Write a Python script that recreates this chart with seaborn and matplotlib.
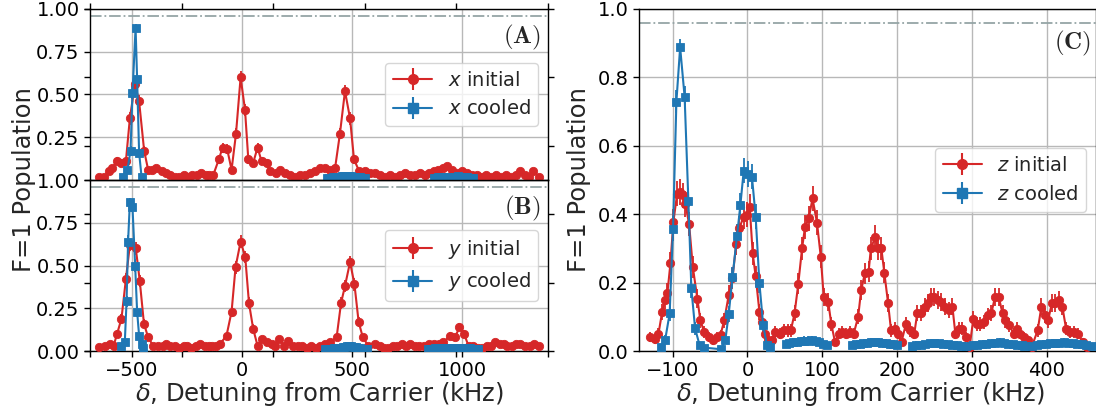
import numpy as np
import pandas as pd
import matplotlib
matplotlib.use("Agg")
import matplotlib.pyplot as plt
import seaborn as sns
from matplotlib.lines import Line2D
from matplotlib.legend_handler import HandlerTuple
from matplotlib.ticker import FormatStrFormatter

# ---------------- data ----------------
N_SHOTS = 180  # shots per point, used for binomial error bars

# Panel A : x motion
xA_init_f = [-648, -626, -603, -588, -567, -547, -527, -509, -486, -467,
             -444, -426, -410, -388, -365, -345, -325, -305, -285, -265,
             -245, -225, -205, -185, -165, -150, -130, -105, -88, -67,
             -47, -27, -6, 14, 29, 51, 71, 89, 112, 127,
             155, 173, 195, 218, 241, 264, 286, 309, 332, 355,
             377, 400, 423, 445, 468, 491, 509, 533, 559, 582,
             605, 628, 650, 672, 695, 718, 740, 762, 785, 808,
             830, 850, 870, 892, 912, 930, 953, 976, 998, 1021,
             1044, 1066, 1088, 1110, 1132, 1155, 1177, 1200, 1222, 1244,
             1264, 1285, 1305, 1324, 1347]
xA_init_p = [0.02, 0.02, 0.05, 0.07, 0.11, 0.10, 0.11, 0.36, 0.56, 0.46,
             0.17, 0.06, 0.06, 0.07, 0.05, 0.04, 0.03, 0.02, 0.02, 0.03,
             0.02, 0.03, 0.03, 0.04, 0.03, 0.03, 0.03, 0.12, 0.19, 0.18,
             0.06, 0.27, 0.60, 0.41, 0.12, 0.10, 0.19, 0.11, 0.10, 0.05,
             0.04, 0.06, 0.04, 0.03, 0.02, 0.03, 0.03, 0.04, 0.05, 0.07,
             0.07, 0.06, 0.07, 0.27, 0.52, 0.36, 0.12, 0.05, 0.05, 0.04,
             0.04, 0.03, 0.02, 0.03, 0.02, 0.03, 0.04, 0.03, 0.03, 0.04,
             0.03, 0.04, 0.05, 0.06, 0.07, 0.08, 0.06, 0.04, 0.05, 0.04,
             0.03, 0.03, 0.02, 0.03, 0.02, 0.03, 0.02, 0.03, 0.02, 0.03,
             0.05, 0.03, 0.02, 0.05, 0.02]

xA_cool_f1 = [-540, -520, -506, -497, -483, -476, -467, -456]
xA_cool_p1 = [0.02, 0.06, 0.17, 0.51, 0.89, 0.59, 0.16, 0.02]
xA_cool_f2 = [385, 395, 405, 415, 425, 435, 445, 455, 465, 475,
              485, 495, 505, 515, 525, 535, 545, 559]
xA_cool_p2 = [0.010, 0.012, 0.010, 0.015, 0.015, 0.018, 0.020, 0.022, 0.025, 0.025,
              0.025, 0.024, 0.020, 0.020, 0.016, 0.015, 0.012, 0.010]
xA_cool_f3 = [870, 880, 890, 900, 910, 920, 930, 940, 950, 960,
              970, 980, 990, 1000, 1010, 1020, 1030, 1040, 1050]
xA_cool_p3 = [0.010, 0.012, 0.015, 0.015, 0.018, 0.020, 0.018, 0.015, 0.015, 0.018,
              0.020, 0.022, 0.020, 0.018, 0.018, 0.015, 0.012, 0.012, 0.010]

# Panel B : y motion
yB_init_f = [-649, -623, -600, -583, -567, -547, -527, -509, -482, -464,
             -445, -426, -403, -380, -360, -345, -325, -305, -285, -265,
             -251, -230, -210, -191, -170, -150, -138, -118, -100, -70,
             -47, -29, -6, 15, 32, 51, 71, 89, 112, 135,
             150, 170, 191, 211, 233, 255, 275, 295, 315, 335,
             355, 375, 400, 430, 450, 468, 491, 511, 530, 549,
             574, 605, 625, 645, 665, 685, 705, 725, 745, 765,
             785, 805, 825, 850, 870, 893, 915, 945, 968, 988,
             1009, 1029, 1050, 1070, 1090, 1112, 1130, 1150, 1170, 1188,
             1205, 1225, 1245, 1264, 1285, 1309, 1327, 1347]
yB_init_p = [0.025, 0.03, 0.04, 0.03, 0.10, 0.19, 0.42, 0.62, 0.60, 0.41,
             0.16, 0.08, 0.03, 0.03, 0.03, 0.04, 0.03, 0.03, 0.02, 0.03,
             0.03, 0.02, 0.03, 0.04, 0.03, 0.03, 0.03, 0.03, 0.04, 0.09,
             0.23, 0.49, 0.64, 0.55, 0.28, 0.13, 0.03, 0.07, 0.05, 0.04,
             0.03, 0.07, 0.03, 0.06, 0.03, 0.03, 0.03, 0.02, 0.03, 0.02,
             0.03, 0.04, 0.05, 0.08, 0.28, 0.38, 0.52, 0.39, 0.17, 0.08,
             0.03, 0.04, 0.03, 0.02, 0.02, 0.03, 0.03, 0.04, 0.03, 0.04,
             0.03, 0.03, 0.03, 0.04, 0.04, 0.04, 0.05, 0.09, 0.08, 0.14,
             0.10, 0.03, 0.03, 0.02, 0.02, 0.03, 0.03, 0.05, 0.04, 0.04,
             0.03, 0.03, 0.04, 0.04, 0.03, 0.03, 0.04, 0.03]

yB_cool_f1 = [-547, -532, -524, -517, -509, -497, -485, -476, -467, -456, -448]
yB_cool_p1 = [0.03, 0.05, 0.29, 0.64, 0.87, 0.84, 0.50, 0.23, 0.09, 0.04, 0.02]
yB_cool_f2 = [377, 387, 397, 407, 417, 427, 437, 447, 457, 467,
              477, 487, 497, 507, 517, 527, 537, 547, 557, 567]
yB_cool_p2 = [0.010, 0.010, 0.012, 0.012, 0.015, 0.015, 0.018, 0.020, 0.022, 0.025,
              0.028, 0.030, 0.028, 0.025, 0.022, 0.020, 0.015, 0.012, 0.010, 0.010]
yB_cool_f3 = [847, 857, 867, 877, 887, 897, 907, 917, 927, 937, 947, 957,
              967, 977, 987, 997, 1007, 1017, 1027, 1037, 1047, 1057, 1067, 1074]
yB_cool_p3 = [0.010, 0.012, 0.012, 0.015, 0.015, 0.015, 0.018, 0.015, 0.015, 0.018, 0.018, 0.020,
              0.018, 0.018, 0.020, 0.020, 0.018, 0.018, 0.015, 0.015, 0.012, 0.012, 0.010, 0.010]

# Panel C : z motion
zC_init_f = [-130, -124, -119, -114, -110, -107, -103, -99, -94, -90,
             -86, -83, -78, -73, -67, -63, -58, -52, -46, -41,
             -36, -31, -25, -20, -15, -11, -5, -1, 3, 7,
             11, 16, 20, 24, 28, 33, 37, 43, 49, 54,
             58, 63, 68, 73, 77, 82, 87, 93, 98, 102,
             108, 112, 117, 122, 127, 132, 137, 142, 148, 152,
             157, 162, 165, 171, 174, 179, 183, 188, 192, 197,
             201, 206, 212, 217, 223, 227, 232, 237, 241, 245,
             249, 255, 259, 264, 270, 274, 278, 283, 287, 292,
             297, 302, 307, 311, 316, 321, 326, 331, 336, 341,
             345, 350, 356, 360, 365, 370, 375, 380, 388, 393,
             398, 402, 407, 411, 417, 421, 426, 431, 437, 442,
             448, 454]
zC_init_p = [0.042, 0.035, 0.05, 0.115, 0.15, 0.17, 0.256, 0.378, 0.46, 0.465,
             0.455, 0.43, 0.371, 0.245, 0.153, 0.09, 0.056, 0.04, 0.032, 0.042,
             0.047, 0.09, 0.164, 0.213, 0.314, 0.359, 0.393, 0.398, 0.422, 0.286,
             0.218, 0.115, 0.085, 0.05, 0.032, 0.032, 0.056, 0.05, 0.06, 0.06,
             0.06, 0.11, 0.197, 0.30, 0.363, 0.388, 0.446, 0.375, 0.276, 0.158,
             0.144, 0.08, 0.027, 0.05, 0.056, 0.05, 0.056, 0.05, 0.10, 0.178,
             0.227, 0.232, 0.30, 0.334, 0.30, 0.30, 0.229, 0.14, 0.06, 0.065,
             0.05, 0.027, 0.08, 0.06, 0.05, 0.11, 0.11, 0.13, 0.14, 0.158,
             0.158, 0.149, 0.144, 0.13, 0.12, 0.13, 0.05, 0.065, 0.065, 0.041,
             0.012, 0.094, 0.08, 0.08, 0.085, 0.104, 0.11, 0.158, 0.158, 0.11,
             0.09, 0.076, 0.05, 0.065, 0.05, 0.041, 0.032, 0.012, 0.06, 0.13,
             0.104, 0.09, 0.14, 0.14, 0.149, 0.13, 0.065, 0.056, 0.056, 0.05,
             0.027, 0.012]

zC_cool_f1 = [-116, -110, -104, -99.5, -95, -90, -84, -79, -75, -70, -64, -58, -35,
              -29.5, -25, -20, -14, -9.5, -5, 0.5, 6, 11, 16, 21, 26, 30]
zC_cool_p1 = [0.013, 0.033, 0.11, 0.358, 0.729, 0.888, 0.743, 0.44, 0.183, 0.066, 0.017, 0.01, 0.005,
              0.033, 0.109, 0.216, 0.336, 0.426, 0.527, 0.517, 0.51, 0.392, 0.198, 0.076, 0.017, 0.012]
zC_cool_f2 = [51, 56, 61, 66, 71, 76, 81, 86, 91, 96, 101, 107]
zC_cool_p2 = [0.020, 0.022, 0.025, 0.025, 0.028, 0.030, 0.030, 0.032, 0.028, 0.025, 0.020, 0.018]
zC_cool_f3 = [140, 145, 150, 155, 160, 165, 170, 175, 180, 185, 190, 195, 200]
zC_cool_p3 = [0.018, 0.020, 0.020, 0.022, 0.022, 0.025, 0.025, 0.025, 0.022, 0.022, 0.020, 0.020, 0.018]
zC_cool_f4 = [220, 226, 232, 238, 244, 250, 256, 262, 268, 274, 280, 286, 292]
zC_cool_p4 = [0.015, 0.018, 0.018, 0.020, 0.022, 0.022, 0.022, 0.020, 0.020, 0.018, 0.018, 0.015, 0.015]
zC_cool_f5 = [301, 307, 313, 319, 325, 331, 337, 343, 349, 355, 361, 367, 370]
zC_cool_p5 = [0.018, 0.018, 0.020, 0.020, 0.022, 0.022, 0.025, 0.022, 0.020, 0.020, 0.018, 0.018, 0.015]
zC_cool_f6 = [381, 387, 393, 399, 405, 411, 417, 423, 429, 435, 441, 447, 453, 461]
zC_cool_p6 = [0.015, 0.018, 0.020, 0.020, 0.022, 0.022, 0.022, 0.025, 0.022, 0.022, 0.020, 0.020, 0.018, 0.015]

THRESHOLD = 0.96
XLABEL = r"$\delta$, Detuning from Carrier (kHz)"
YLABEL = "F=1 Population"

# ---------------- style ----------------
sns.set_theme(style="ticks", rc={
    "axes.grid": True,
    "grid.color": "#b8b8b8",
    "grid.linewidth": 1.0,
    "axes.edgecolor": "black",
    "axes.linewidth": 1.0,
    "xtick.color": "black",
    "ytick.color": "black",
    "xtick.major.size": 4,
    "ytick.major.size": 4,
    "xtick.major.width": 1.0,
    "ytick.major.width": 1.0,
    "xtick.direction": "out",
    "ytick.direction": "out",
    "xtick.labelsize": 14,
    "ytick.labelsize": 14,
})
plt.rcParams["font.family"] = ["DejaVu Sans"]
plt.rcParams["mathtext.fontset"] = "dejavusans"
plt.rcParams["axes.unicode_minus"] = True

RED = "#d62728"
BLUE = "#1f77b4"
LABEL_FS = 17.5


def draw(ax, segments, color, marker, ms):
    for xs, ps in segments:
        df = pd.DataFrame({"freq": xs, "pop": ps})
        sns.lineplot(data=df, x="freq", y="pop", estimator=None, sort=False,
                     color=color, marker=marker, markersize=ms,
                     markeredgecolor=color, markeredgewidth=0.6,
                     linewidth=1.5, ax=ax, legend=False, zorder=3)
        p = np.asarray(ps, dtype=float)
        err = np.sqrt(p * (1 - p) / N_SHOTS)
        ax.errorbar(xs, ps, yerr=err, fmt="none", ecolor=color,
                    elinewidth=1.3, capsize=0, zorder=2.9)
    ax.set_xlabel("")
    ax.set_ylabel("")


def legend(ax, name, ms):
    h1 = (Line2D([], [], color=RED, marker="o", ms=ms, lw=1.5),
          Line2D([], [], color=RED, marker="|", ms=16, mew=1.5, ls="none"))
    h2 = (Line2D([], [], color=BLUE, marker="s", ms=ms, lw=1.5),
          Line2D([], [], color=BLUE, marker="|", ms=16, mew=1.5, ls="none"))
    leg = ax.legend([h1, h2], [f"${name}$ initial", f"${name}$ cooled"],
                    loc="center right", fontsize=14, frameon=True,
                    fancybox=True, framealpha=0.8, edgecolor="0.8",
                    handler_map={tuple: HandlerTuple(ndivide=1, pad=0)},
                    handlelength=2.0, borderpad=0.4, labelspacing=0.5)
    leg.set_zorder(10)


W, H = 1096, 415
fig = plt.figure(figsize=(W / 100, H / 100), dpi=100)


def rect(l, t, r, b):
    return [l / W, 1 - b / H, (r - l) / W, (b - t) / H]


axBig = fig.add_axes(rect(90, 9, 548, 351))
axA = fig.add_axes(rect(90, 9, 548, 180))
axB = fig.add_axes(rect(90, 180, 548, 351))
axC = fig.add_axes(rect(639, 9, 1096, 351))

# overlay axes: carries the common labels and the 0..1 frame ticks
axBig.set_facecolor("none")
axBig.grid(False)
for s in axBig.spines.values():
    s.set_visible(False)
axBig.set_xlim(0, 1)
axBig.set_ylim(0, 1)
axBig.tick_params(axis="both", which="both", top=True, right=True,
                  bottom=True, left=True, labelleft=False, labelbottom=False)
axBig.set_ylabel(YLABEL, fontsize=LABEL_FS)
axBig.set_xlabel(XLABEL, fontsize=LABEL_FS)
axBig.yaxis.set_label_coords(-0.118, 0.5)
axBig.xaxis.set_label_coords(0.5, -0.085)
axBig.set_zorder(0)
for a in (axA, axB, axC):
    a.set_zorder(1)

# panel A
draw(axA, [(xA_init_f, xA_init_p)], RED, "o", 6)
draw(axA, [(xA_cool_f1, xA_cool_p1), (xA_cool_f2, xA_cool_p2),
           (xA_cool_f3, xA_cool_p3)], BLUE, "s", 6)
# panel B
draw(axB, [(yB_init_f, yB_init_p)], RED, "o", 6)
draw(axB, [(yB_cool_f1, yB_cool_p1), (yB_cool_f2, yB_cool_p2),
           (yB_cool_f3, yB_cool_p3)], BLUE, "s", 6)
# panel C
draw(axC, [(zC_init_f, zC_init_p)], RED, "o", 6)
draw(axC, [(zC_cool_f1, zC_cool_p1), (zC_cool_f2, zC_cool_p2),
           (zC_cool_f3, zC_cool_p3), (zC_cool_f4, zC_cool_p4),
           (zC_cool_f5, zC_cool_p5), (zC_cool_f6, zC_cool_p6)], BLUE, "s", 6)

for ax, tag, nm in ((axA, "A", "x"), (axB, "B", "y")):
    ax.set_facecolor("none")
    ax.set_xlim(-690, 1390)
    ax.set_ylim(0, 1)
    ax.set_xticks([-500, 0, 500, 1000])
    ax.set_yticks([0, 0.25, 0.5, 0.75, 1.0])
    ax.yaxis.set_major_formatter(FormatStrFormatter("%.2f"))
    ax.axhline(THRESHOLD, color="#95a5a6", ls="-.", lw=1.3, zorder=1.5)
    ax.text(0.985, 0.835, r"$(\mathbf{%s})$" % tag, transform=ax.transAxes,
            ha="right", va="center", fontsize=18, math_fontfamily="cm", zorder=11)
    legend(ax, nm, 7)

axA.tick_params(axis="x", bottom=False, labelbottom=False)
axA.set_yticklabels(["", "0.25", "0.50", "0.75", "1.00"])

axC.set_facecolor("none")
axC.set_xlim(-145, 466)
axC.set_ylim(0, 1)
axC.set_xticks([-100, 0, 100, 200, 300, 400])
axC.set_yticks([0, 0.2, 0.4, 0.6, 0.8, 1.0])
axC.yaxis.set_major_formatter(FormatStrFormatter("%.1f"))
axC.axhline(THRESHOLD, color="#95a5a6", ls="-.", lw=1.3, zorder=1.5)
axC.text(0.99, 0.9, r"$(\mathbf{C})$", transform=axC.transAxes,
         ha="right", va="center", fontsize=18, math_fontfamily="cm", zorder=11)
legend(axC, "z", 7)
axC.set_ylabel(YLABEL, fontsize=LABEL_FS)
axC.set_xlabel(XLABEL, fontsize=LABEL_FS)
axC.yaxis.set_label_coords(-0.105, 0.5)
axC.xaxis.set_label_coords(0.485, -0.085)

fig.savefig("out.png", dpi=100)
